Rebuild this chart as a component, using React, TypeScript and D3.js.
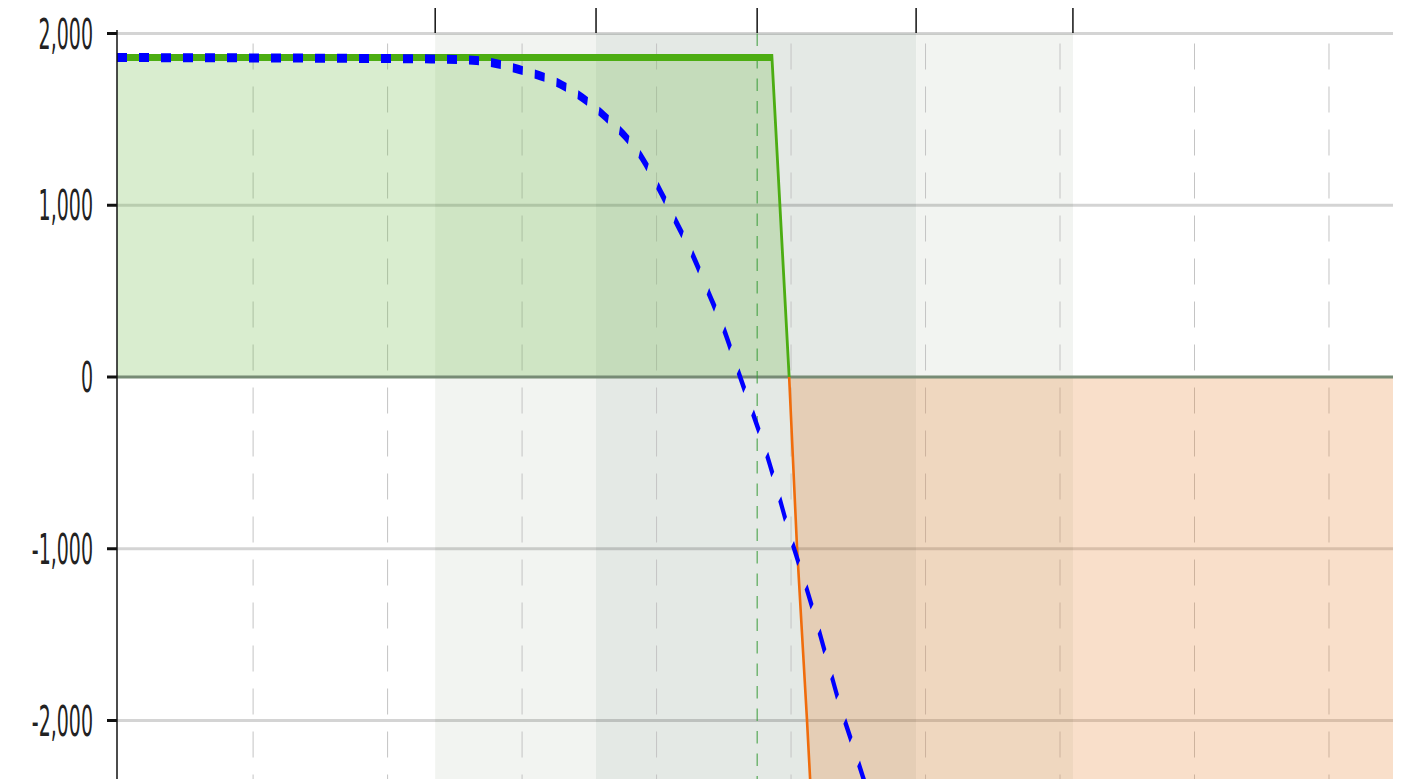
import React from 'react';
import * as d3 from 'd3';

// ---- data ----
const yTicks = [2000, 1000, 0, -1000, -2000];
const gridPrices = [4100, 4150, 4200, 4250, 4300, 4350, 4400, 4450, 4500];
const sigmaPrices = [4167.7, 4227.5, 4287.4, 4346.5, 4404.8];
const currentPrice = 4287.4;

const expiryPrice = [4049.4, 4292.9, 4299.3, 4302.2, 4305.9, 4307.1, 4400, 4523.8];
const expiryPnl = [1860, 1860, 0, -985, -1988, -2344, -30200, -67400];

const t0Price = [4049.4, 4166.2, 4182.9, 4198.9, 4215.2, 4230.9, 4245.0, 4251.7, 4257.6, 4263.9, 4269.5, 4275.1, 4280.3, 4285.5, 4290.7, 4295.2, 4299.6, 4304.5, 4309.3, 4313.8, 4318.2, 4323.0, 4326.8, 4345];
const t0Pnl = [1860, 1852, 1843, 1790, 1697, 1516, 1265, 1073, 892, 694, 484, 274, 35, -198, -437, -676, -921, -1166, -1417, -1668, -1913, -2146, -2332, -3250];

const W = 1401, H = 779, S = 2.5;
const L = 117, R = 1393;

const fmt = (v: number) => d3.format(',')(v).replace('\u2212', '-');

export default function App() {
  const x = d3.scaleLinear().domain([4049.4, 4523.8]).range([L, R]);
  const y = d3.scaleLinear().domain([2000, -2000]).range([33.5 / S, 720.5 / S]);
  const top = y(2000);
  const bottom = H / S;
  const y0 = y(0);

  const expiry = expiryPrice.map((p, i) => [p, expiryPnl[i]] as [number, number]);
  const t0 = t0Price.map((p, i) => [p, t0Pnl[i]] as [number, number]);

  const line = d3.line<[number, number]>().x(d => x(d[0])).y(d => y(d[1]));
  const curve = d3.line<[number, number]>().x(d => x(d[0])).y(d => y(d[1])).curve(d3.curveMonotoneX);
  const area = d3.area<[number, number]>().x(d => x(d[0])).y0(y0).y1(d => y(d[1]));

  return (
    <svg width={W} height={H} style={{ position: 'absolute', left: 0, top: 0 }}>
      <defs>
        <clipPath id="plot"><rect x={L} y={top} width={R - L} height={bottom - top} /></clipPath>
        <clipPath id="pos"><rect x={L} y={top} width={R - L} height={y0 - top} /></clipPath>
        <clipPath id="neg"><rect x={L} y={y0} width={R - L} height={bottom - y0} /></clipPath>
      </defs>
      {/* top sigma ticks */}
      {sigmaPrices.map((p, i) => (
        <line key={'st' + i} x1={x(p)} x2={x(p)} y1={8} y2={33} stroke="#111" strokeWidth={1.5} />
      ))}
      <g transform={`scale(1,${S})`}>
        {/* bands */}
        <rect x={x(sigmaPrices[0])} y={top} width={x(sigmaPrices[1]) - x(sigmaPrices[0])} height={bottom - top} fill="#f2f4f1" />
        <rect x={x(sigmaPrices[1])} y={top} width={x(sigmaPrices[3]) - x(sigmaPrices[1])} height={bottom - top} fill="#e4e9e5" />
        <rect x={x(sigmaPrices[3])} y={top} width={x(sigmaPrices[4]) - x(sigmaPrices[3])} height={bottom - top} fill="#f2f4f1" />
        {/* vertical dashed grid */}
        {gridPrices.map((p, i) => (
          <line key={'vg' + i} x1={x(p)} x2={x(p)} y1={top} y2={bottom} stroke="#c4c4c4" strokeWidth={1}
            strokeDasharray="10.4,6.8" strokeDashoffset={13.2} />
        ))}
        {/* horizontal grid */}
        {yTicks.filter(v => v !== 0).map((v, i) => (
          <line key={'hg' + i} x1={L} x2={R} y1={y(v)} y2={y(v)} stroke="rgba(0,0,0,0.17)" strokeWidth={1.2} />
        ))}
        {/* fills */}
        <g clipPath="url(#plot)">
          <path d={area(expiry) || ''} fill="rgb(103,183,63)" fillOpacity={0.25} clipPath="url(#pos)" />
          <path d={area(expiry) || ''} fill="rgb(231,127,43)" fillOpacity={0.25} clipPath="url(#neg)" />
        </g>
        {/* zero line */}
        <line x1={L} x2={R} y1={y0} y2={y0} stroke="#778b75" strokeWidth={1.2} />
        {/* current price */}
        <line x1={x(currentPrice)} x2={x(currentPrice)} y1={top} y2={bottom} stroke="#3a9c3a" strokeWidth={1}
          strokeDasharray="5,4" />
        {/* expiry line */}
        <g clipPath="url(#plot)">
          <path d={line(expiry) || ''} fill="none" stroke="#4cad12" strokeWidth={2.8} clipPath="url(#pos)" />
          <path d={line(expiry) || ''} fill="none" stroke="#f06c0c" strokeWidth={2.6} clipPath="url(#neg)" />
          <path d={curve(t0) || ''} fill="none" stroke="#0000ff" strokeWidth={3.6} strokeDasharray="10,12" />
        </g>
        {/* y axis */}
        <line x1={L} x2={L} y1={30 / S} y2={bottom} stroke="#111" strokeWidth={1.5} />
        {yTicks.map((v, i) => (
          <line key={'yk' + i} x1={L - 10} x2={L} y1={y(v)} y2={y(v)} stroke="#111" strokeWidth={1.2} />
        ))}
      </g>
      {yTicks.map((v, i) => (
        <text key={'yt' + i} transform={`translate(93,${y(v) * S + 1}) scale(1,2.2)`} textAnchor="end"
          dominantBaseline="central" fontFamily="DejaVu Sans" fontSize={19} fill="#222">{fmt(v)}</text>
      ))}
    </svg>
  );
}
